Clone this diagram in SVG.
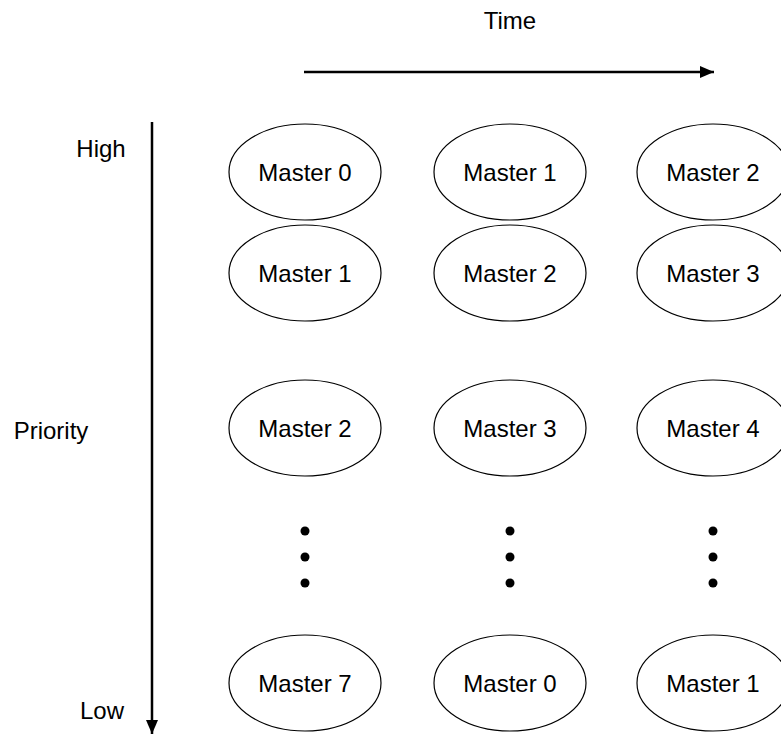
<svg xmlns="http://www.w3.org/2000/svg" width="781" height="736" viewBox="0 0 781 736">
<style>
text{font-family:"Liberation Sans",Arial,sans-serif;font-size:24px;fill:#000;text-anchor:middle;dominant-baseline:central}
.n ellipse{fill:#fff;stroke:#000;stroke-width:1.2}
.ax{stroke:#000;stroke-width:2.5;fill:none}
</style>
<defs>
<marker id="ah" markerWidth="14" markerHeight="12" refX="14" refY="6" orient="auto" markerUnits="userSpaceOnUse"><path d="M0,0 L14,6 L0,12 Z" fill="#000"/></marker>
</defs>
<rect width="781" height="736" fill="#fff"/>
<g id="labels">
<text x="510" y="20">Time</text>
<text x="101" y="148">High</text>
<text x="51" y="430">Priority</text>
<text x="102" y="710">Low</text>
</g>
<g id="connectors">
<line class="ax" x1="304" y1="72" x2="714" y2="72" marker-end="url(#ah)"/>
<line class="ax" x1="152" y1="122" x2="152" y2="734" marker-end="url(#ah)"/>
</g>
<g id="n00" class="n"><ellipse cx="305" cy="172" rx="76" ry="48"/><text x="305" y="172">Master 0</text></g>
<g id="n01" class="n"><ellipse cx="510" cy="172" rx="76" ry="48"/><text x="510" y="172">Master 1</text></g>
<g id="n02" class="n"><ellipse cx="713" cy="172" rx="76" ry="48"/><text x="713" y="172">Master 2</text></g>
<g id="n10" class="n"><ellipse cx="305" cy="273" rx="76" ry="48"/><text x="305" y="273">Master 1</text></g>
<g id="n11" class="n"><ellipse cx="510" cy="273" rx="76" ry="48"/><text x="510" y="273">Master 2</text></g>
<g id="n12" class="n"><ellipse cx="713" cy="273" rx="76" ry="48"/><text x="713" y="273">Master 3</text></g>
<g id="n20" class="n"><ellipse cx="305" cy="428" rx="76" ry="48"/><text x="305" y="428">Master 2</text></g>
<g id="n21" class="n"><ellipse cx="510" cy="428" rx="76" ry="48"/><text x="510" y="428">Master 3</text></g>
<g id="n22" class="n"><ellipse cx="713" cy="428" rx="76" ry="48"/><text x="713" y="428">Master 4</text></g>
<g id="dots">
<circle cx="305" cy="531" r="4.5"/><circle cx="305" cy="557" r="4.5"/><circle cx="305" cy="583" r="4.5"/>
<circle cx="510" cy="531" r="4.5"/><circle cx="510" cy="557" r="4.5"/><circle cx="510" cy="583" r="4.5"/>
<circle cx="713" cy="531" r="4.5"/><circle cx="713" cy="557" r="4.5"/><circle cx="713" cy="583" r="4.5"/>
</g>
<g id="n30" class="n"><ellipse cx="305" cy="683" rx="76" ry="48"/><text x="305" y="683">Master 7</text></g>
<g id="n31" class="n"><ellipse cx="510" cy="683" rx="76" ry="48"/><text x="510" y="683">Master 0</text></g>
<g id="n32" class="n"><ellipse cx="713" cy="683" rx="76" ry="48"/><text x="713" y="683">Master 1</text></g>
</svg>
